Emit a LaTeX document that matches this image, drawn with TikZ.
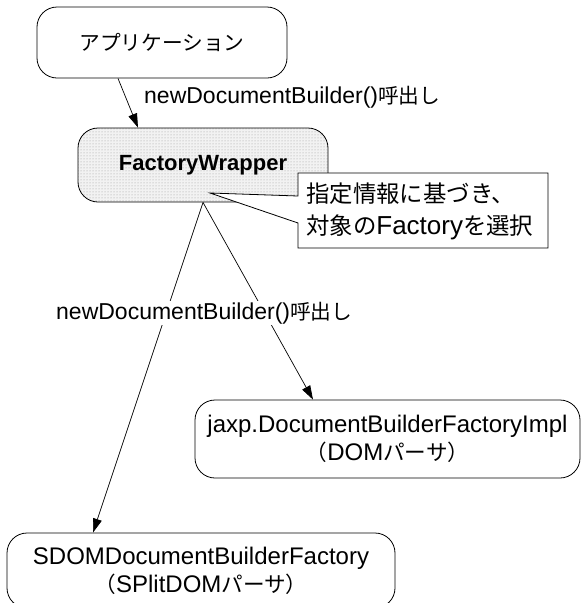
\documentclass[tikz,border=0pt]{standalone}
\usepackage{fontspec}
\setmainfont{Liberation Sans}
\newfontfamily\jpfont[Scale=0.9]{Noto Sans CJK JP}
\newcommand{\jtext}[1]{{\jpfont #1}}
\usetikzlibrary{arrows.meta, positioning, calc, patterns}

\tikzset{
  block/.style={draw, rounded corners=20pt, line width=0.8pt, align=center, inner sep=0pt},
  call/.style={font=\fontsize{23}{28}\selectfont, anchor=west, inner sep=1pt},
  link/.style={line width=0.7pt, -{Triangle[length=14pt,width=9pt]}},
}

\begin{document}
\begin{tikzpicture}[x=1pt, y=-1pt]
  \useasboundingbox (0,0) rectangle (582,603);

  % caller
  \node[block, minimum width=250pt, minimum height=71pt, font=\fontsize{23}{28}\selectfont] (app) at (162,42.5) {\jtext{アプリケーション}};

  % wrapper, dotted fill
  \node[block, minimum width=250pt, minimum height=74pt, preaction={fill=gray!10}, pattern=dots, pattern color=gray!80, font=\bfseries\fontsize{22}{26}\selectfont] (fw) at (203,165) {FactoryWrapper};

  \draw[link] ([xshift=-44pt]app.south) -- ([xshift=-65pt]fw.north);
  \node[call] (call1) at (143,97) {newDocumentBuilder()\jtext{呼出し}};

  % balloon on the wrapper
  \draw[line width=0.8pt, fill=white] (298,173) -- (548,173) -- (548,248) -- (298,248) -- (298,223) -- (210,193) -- (298,196) -- cycle;
  \node[anchor=west, align=left, inner sep=0pt, font=\fontsize{26}{32}\selectfont] (note) at (306,211) {\jtext{指定情報に基づき、}\\\jtext{対象の}Factory\jtext{を選択}};

  % implementations
  \node[block, minimum width=385pt, minimum height=78pt, font=\fontsize{24}{28}\selectfont] (jaxp) at (387.5,439) {jaxp.DocumentBuilderFactoryImpl\\\jtext{（}DOM\jtext{パーサ）}};
  \node[block, minimum width=388pt, minimum height=75pt, font=\fontsize{24}{28}\selectfont] (sdom) at (201,570.5) {SDOMDocumentBuilderFactory\\\jtext{（}SPlitDOM\jtext{パーサ）}};

  \draw[link] (fw.south) -- ([xshift=-74.5pt]jaxp.north);
  \draw[link] (fw.south) -- ([xshift=-108pt]sdom.north);
  \node[call, fill=white] (call2) at (55,313) {newDocumentBuilder()\jtext{呼出し}};
\end{tikzpicture}
\end{document}
